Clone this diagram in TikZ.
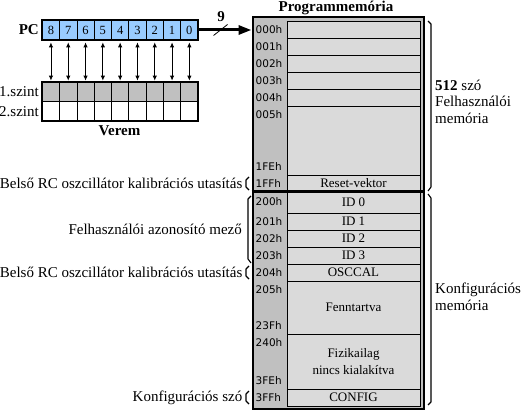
\documentclass[tikz,border=0pt]{standalone}
\usepackage{fontspec}
\setmainfont{Liberation Serif}
\newfontfamily\addrfont{DejaVu Sans}
\usetikzlibrary{arrows.meta,calc}
\definecolor{pcblue}{RGB}{153,204,255}
\definecolor{darkg}{RGB}{192,192,192}
\definecolor{lightg}{RGB}{218,218,218}
\newcommand\memrow[4]{\node[memcell, minimum height={#3-#2}] (#1) at (353.5,{(#2+#3)/2}) {#4};}
\begin{document}
\begin{tikzpicture}[x=1pt,y=-1pt,
  txt/.style={font=\fontsize{15}{16.5}\selectfont, inner sep=0pt},
  btxt/.style={font=\fontsize{15}{16}\selectfont\bfseries, inner sep=0pt},
  pccell/.style={draw, line width=0.8pt, fill=pcblue, minimum width=17.3pt, minimum height=20pt, inner sep=0pt, font=\fontsize{12.5}{14}\selectfont},
  stcell/.style={draw, line width=0.8pt, minimum width=17.3pt, minimum height=19.5pt, inner sep=0pt},
  memcell/.style={draw, line width=0.8pt, fill=lightg, minimum width=133pt, inner sep=0pt, align=center, font=\fontsize{13}{17.5}\selectfont},
  addr/.style={anchor=west, inner sep=0pt, font=\addrfont\fontsize{10.5}{12}\selectfont},
  dbl/.style={line width=0.8pt, {Latex[length=5pt,width=4.5pt]}-{Latex[length=5pt,width=4.5pt]}},
  brk/.style={line width=1.1pt, line join=round},
]
\useasboundingbox (0,0) rectangle (521,412);

% PC register
\foreach \k [evaluate=\k as \lab using int(8-\k)] in {0,...,8}{
  \node[pccell] (pc\k) at ({42.3+8.65+\k*17.3},30) {\lab};
  \node[stcell, fill=darkg] (s1\k) at ({42.3+8.65+\k*17.3},91.75) {};
  \node[stcell, fill=white] (s2\k) at ({42.3+8.65+\k*17.3},111.25) {};
  \draw[dbl] ([yshift=-2pt]pc\k.south) -- ([yshift=1pt]s1\k.north);
}
\node[draw, line width=2pt, minimum width=155.7pt, minimum height=20pt, inner sep=0pt] (pc) at (120.15,30) {};
\node[draw, line width=2pt, minimum width=155.7pt, minimum height=39pt, inner sep=0pt] (verem) at (120.15,101.5) {};
\node[btxt, anchor=east] (pclab) at (39,30) {PC};
\node[txt, anchor=east] (sz1) at (39,92) {1.szint};
\node[txt, anchor=east] (sz2) at (39,111.5) {2.szint};
\node[btxt] (veremlab) at (119.5,131) {Verem};

% Program memory
\node[btxt] (title) at (336,8) {Programmemória};
\node[draw, line width=2pt, fill=darkg, minimum width=171pt, minimum height=391pt, inner sep=0pt] (mem) at (338,213) {};
\memrow{r1}{21}{38}{}
\memrow{r2}{38}{55}{}
\memrow{r3}{55}{72}{}
\memrow{r4}{72}{89}{}
\memrow{r5}{89}{106}{}
\memrow{r6}{106}{175}{}
\memrow{r7}{175}{192}{Reset-vektor}
\memrow{r8}{192}{213}{ID 0}
\memrow{r9}{213}{230}{ID 1}
\memrow{r10}{230}{247}{ID 2}
\memrow{r11}{247}{264}{ID 3}
\memrow{r12}{264}{281}{OSCCAL}
\memrow{r13}{281}{334}{Fenntartva}
\memrow{r14}{334}{389}{Fizikailag\\nincs kialakítva}
\memrow{r15}{389}{406}{CONFIG}
\draw[line width=3pt] (mem.west |- r8.north) -- (mem.east |- r8.north);

\node[addr] (a000) at (255.5,29.5) {000h};
\node[addr] (a001) at (255.5,46.5) {001h};
\node[addr] (a002) at (255.5,63.5) {002h};
\node[addr] (a003) at (255.5,80.5) {003h};
\node[addr] (a004) at (255.5,97.5) {004h};
\node[addr] (a005) at (255.5,114.5) {005h};
\node[addr] (a1FE) at (255.5,166.5) {1FEh};
\node[addr] (a1FF) at (255.5,183.5) {1FFh};
\node[addr] (a200) at (255.5,201.5) {200h};
\node[addr] (a201) at (255.5,221.5) {201h};
\node[addr] (a202) at (255.5,238.5) {202h};
\node[addr] (a203) at (255.5,255.5) {203h};
\node[addr] (a204) at (255.5,272.5) {204h};
\node[addr] (a205) at (255.5,289.5) {205h};
\node[addr] (a23F) at (255.5,325.5) {23Fh};
\node[addr] (a240) at (255.5,342.5) {240h};
\node[addr] (a3FE) at (255.5,380.5) {3FEh};
\node[addr] (a3FF) at (255.5,397.5) {3FFh};

% address bus arrow
\draw[line width=3pt, -{Triangle[length=13pt,width=9pt]}] (pc.east) -- (mem.west |- pc.east);
\coordinate (slashc) at ($(pc.east)!0.41!(mem.west |- pc.east)$);
\draw[line width=0.8pt] ($(slashc)+(-7,5.5)$) -- ($(slashc)+(7,-5.5)$);
\node[btxt] (nine) at (221,17) {9};

% left labels and brackets
\node[txt, anchor=east] (l1) at (242.5,183.5) {Belső RC oszcillátor kalibrációs utasítás};
\draw[brk] (249,177) -- (246,180) -- (246,187) -- (249,190);
\node[txt, anchor=east] (l2) at (242,229) {Felhasználói azonosító mező};
\draw[brk] (251,196) -- (248,199) -- (248,259) -- (251,263);
\node[txt, anchor=east] (l3) at (242.5,272.5) {Belső RC oszcillátor kalibrációs utasítás};
\draw[brk] (249,266) -- (246,269) -- (246,276) -- (249,279);
\node[txt, anchor=east] (l4) at (242.5,397.5) {Konfigurációs szó};
\draw[brk] (249,391) -- (246,394) -- (246,401) -- (249,404);

% right labels and brackets
\draw[brk] (428,21) -- (431,24) -- (431,187) -- (428,191);
\draw[brk] (428,194) -- (431,198) -- (431,402) -- (428,405);
\node[txt, anchor=west, align=left] (rl1) at (435,101.5) {\textbf{512} szó\\Felhasználói\\memória};
\node[txt, anchor=west, align=left] (rl2) at (435,297) {Konfigurációs\\memória};
\end{tikzpicture}
\end{document}
